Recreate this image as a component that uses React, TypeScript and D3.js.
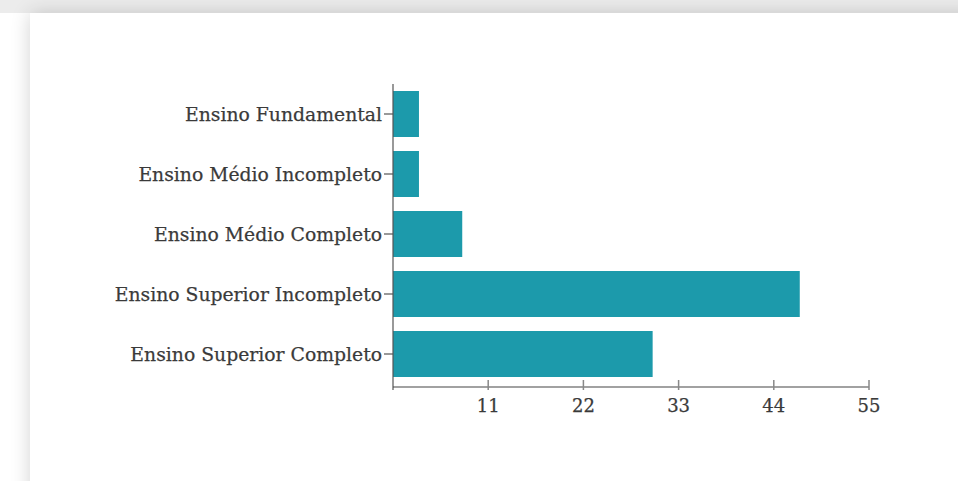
import React from "react";
import * as d3 from "d3";

const categories = [
  "Ensino Fundamental",
  "Ensino Médio Incompleto",
  "Ensino Médio Completo",
  "Ensino Superior Incompleto",
  "Ensino Superior Completo",
];
const values = [3, 3, 8, 47, 30];
const xTicks = [11, 22, 33, 44, 55];

const W = 958;
const H = 481;
const x0 = 393;
const x1 = 869;
const yTop = 84;
const yBottom = 384;
const axisY = 387;

export default function App() {
  const x = d3.scaleLinear().domain([0, 55]).range([x0, x1]);
  const y = d3
    .scaleBand<string>()
    .domain(categories)
    .range([yTop, yBottom])
    .paddingInner(14 / 60)
    .paddingOuter(7 / 60);
  const font = "'DejaVu Serif', serif";
  return (
    <div style={{ position: "fixed", left: 0, top: 0, width: W, height: H, overflow: "hidden", background: "#fff" }}>
      <svg width={W} height={H} style={{ display: "block" }}>
        <defs>
          <filter id="sh" x="-10%" y="-10%" width="130%" height="130%">
            <feGaussianBlur in="SourceAlpha" stdDeviation="10" />
            <feComponentTransfer>
              <feFuncA type="linear" slope="0.18" />
            </feComponentTransfer>
            <feMerge>
              <feMergeNode />
              <feMergeNode in="SourceGraphic" />
            </feMerge>
          </filter>
        </defs>
        <rect x={-20} y={-60} width={1100} height={73} fill="#ececec" />
        <rect x={30} y={13} width={1000} height={600} fill="#fff" filter="url(#sh)" />
        {categories.map((c, i) => (
          <rect key={c} x={x(0)} y={y(c)} width={x(values[i]) - x(0)} height={y.bandwidth()} fill="#1c9aab" />
        ))}
        <line x1={x0} x2={x0} y1={yTop} y2={axisY + 3} stroke="#555" strokeWidth={1.2} />
        {categories.map((c) => {
          const cy = (y(c) as number) + y.bandwidth() / 2;
          return (
            <g key={c}>
              <line x1={x0 - 9} x2={x0} y1={cy} y2={cy} stroke="#555" strokeWidth={1.2} />
              <text x={x0 - 11} y={cy} dy="0.35em" textAnchor="end" fontFamily={font} fontSize={18.8} fill="#3a3a3a" stroke="#3a3a3a" strokeWidth={0.25}>
                {c}
              </text>
            </g>
          );
        })}
        <line x1={x0} x2={x1} y1={axisY} y2={axisY} stroke="#444" strokeWidth={1.2} />
        {xTicks.map((t) => (
          <g key={t}>
            <line x1={x(t)} x2={x(t)} y1={axisY - 7} y2={axisY + 3} stroke="#888" strokeWidth={1.5} />
            <text x={x(t)} y={axisY + 25} textAnchor="middle" fontFamily={font} fontSize={18} fill="#3a3a3a" stroke="#3a3a3a" strokeWidth={0.25}>
              {t}
            </text>
          </g>
        ))}
      </svg>
    </div>
  );
}
